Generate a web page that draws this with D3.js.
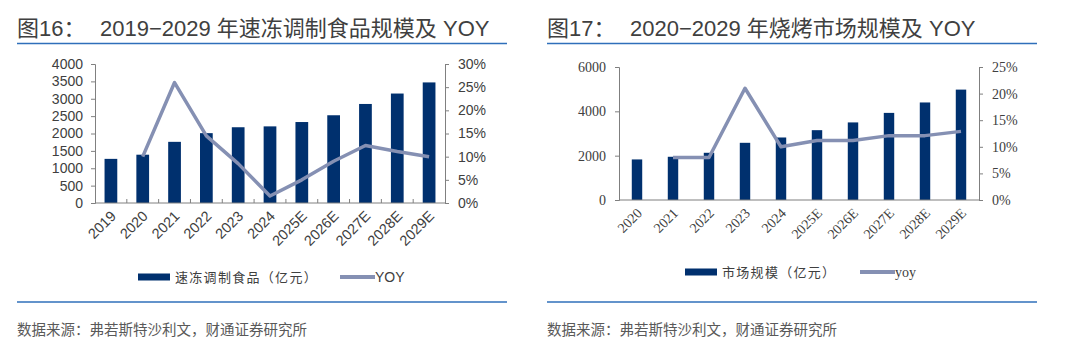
<!DOCTYPE html>
<html>
<head>
<meta charset="utf-8">
<script src="https://cdn.jsdelivr.net/npm/d3@7"></script>
<style>
  body { margin: 0; background: #fff; }
  svg { display: block; }
</style>
</head>
<body>
<svg id="chart" width="1080" height="351"></svg>
<script>
// 图16 速冻调制食品
let frozenYears = ['2019', '2020', '2021', '2022', '2023', '2024', '2025E', '2026E', '2027E', '2028E', '2029E'];
let frozenSize = [1270, 1390, 1760, 2010, 2180, 2205, 2330, 2525, 2850, 3150, 3470];
let frozenYoy = [null, 10, 26, 14.5, 8.5, 1.5, 5.0, 9.0, 12.4, 11.1, 10.0];
let frozenLeftTicks = [0, 500, 1000, 1500, 2000, 2500, 3000, 3500, 4000];
let frozenRightTicks = [0, 5, 10, 15, 20, 25, 30];

// 图17 烧烤
let bbqYears = ['2020', '2021', '2022', '2023', '2024', '2025E', '2026E', '2027E', '2028E', '2029E'];
let bbqSize = [1830, 1950, 2130, 2580, 2820, 3150, 3500, 3930, 4400, 4980];
let bbqYoy = [null, 8, 8, 21, 10, 11.2, 11.2, 12.1, 12.1, 12.9];
let bbqLeftTicks = [0, 2000, 4000, 6000];
let bbqRightTicks = [0, 5, 10, 15, 20, 25];

let barColor = '#00306e',
    lineColor = '#8590b3',
    ruleColor = '#2f6fba',
    textColor = '#404040';

let svg = d3.select('#chart');

let drawPanel = function (p) {
  let g = svg.append('g');

  // title + rules
  let titleFont = 'Liberation Sans, Noto Sans CJK SC, sans-serif';
  g.append('text')
    .attr('x', p.x0)
    .attr('y', 36)
    .attr('fill', textColor)
    .style('font-family', titleFont)
    .style('font-size', '22px')
    .text(p.titleNo);

  g.append('text')
    .attr('x', p.x0 + 83)
    .attr('y', 36)
    .attr('fill', textColor)
    .style('font-family', titleFont)
    .style('font-size', '22px')
    .text(p.title);

  g.append('line')
    .attr('x1', p.x0).attr('x2', p.x1)
    .attr('y1', 43.5).attr('y2', 43.5)
    .attr('stroke', ruleColor).attr('stroke-width', 1.5);

  g.append('line')
    .attr('x1', p.x0).attr('x2', p.x1)
    .attr('y1', 302).attr('y2', 302)
    .attr('stroke', ruleColor).attr('stroke-width', 1.5);

  g.append('text')
    .attr('x', p.x0)
    .attr('y', 335)
    .attr('fill', '#595959')
    .style('font-family', 'Noto Sans CJK SC, sans-serif')
    .style('font-size', '14.5px')
    .text('数据来源：弗若斯特沙利文，财通证券研究所');

  // scales
  let x = d3.scaleBand()
    .domain(p.cats)
    .range([p.left, p.right]);

  let yL = d3.scaleLinear()
    .domain([0, d3.max(p.leftTicks)])
    .range([p.bottom, p.top]);

  let yR = d3.scaleLinear()
    .domain([0, d3.max(p.rightTicks)])
    .range([p.bottom, p.top]);

  // bars
  let bw = x.bandwidth() * p.barRatio;
  g.selectAll('.bar')
    .data(p.cats)
    .enter()
    .append('rect')
    .attr('x', function (d) { return x(d) + (x.bandwidth() - bw) / 2; })
    .attr('y', function (d, i) { return yL(p.size[i]); })
    .attr('width', bw)
    .attr('height', function (d, i) { return yL(0) - yL(p.size[i]); })
    .attr('fill', barColor);

  // axes
  let axisFont = p.serif ? 'Liberation Serif, serif' : 'Liberation Sans, Arial, sans-serif';

  let leftAxis = d3.axisLeft(yL)
    .tickValues(p.leftTicks)
    .tickSize(4)
    .tickPadding(p.serif ? 9 : 8)
    .tickFormat(d3.format('d'));

  let rightAxis = d3.axisRight(yR)
    .tickValues(p.rightTicks)
    .tickSize(4)
    .tickPadding(9)
    .tickFormat(function (d) { return d + '%'; });

  let la = g.append('g')
    .attr('transform', 'translate(' + p.left + ',0)')
    .call(leftAxis);

  let ra = g.append('g')
    .attr('transform', 'translate(' + p.right + ',0)')
    .call(rightAxis);

  [la, ra].forEach(function (a) {
    a.select('.domain').attr('stroke', p.axisColor);
    a.selectAll('.tick line').attr('stroke', p.axisColor);
    a.selectAll('.tick text')
      .attr('fill', textColor)
      .style('font-family', axisFont)
      .style('font-size', p.tickFont);
  });

  // x axis
  g.append('line')
    .attr('x1', p.left).attr('x2', p.right)
    .attr('y1', p.bottom).attr('y2', p.bottom)
    .attr('stroke', p.axisColor);

  if (p.boundaryTicks) {
    g.selectAll('.xtick')
      .data(p.cats.slice(1))
      .enter()
      .append('line')
      .attr('x1', function (d) { return x(d); })
      .attr('x2', function (d) { return x(d); })
      .attr('y1', p.bottom)
      .attr('y2', p.bottom - 4)
      .attr('stroke', p.axisColor);
  }

  g.selectAll('.xlabel')
    .data(p.cats)
    .enter()
    .append('text')
    .attr('transform', function (d) {
      let cx = x(d) + x.bandwidth() / 2 + p.labelDx;
      return 'translate(' + cx + ',' + (p.bottom + p.labelDy) + ') rotate(-45)';
    })
    .attr('text-anchor', 'end')
    .attr('fill', textColor)
    .style('font-family', axisFont)
    .style('font-size', p.xFont)
    .text(function (d) { return d; });

  // yoy line
  let line = d3.line()
    .defined(function (d) { return d[1] !== null; })
    .x(function (d) { return x(d[0]) + x.bandwidth() / 2; })
    .y(function (d) { return yR(d[1]); });

  g.append('path')
    .datum(p.cats.map(function (c, i) { return [c, p.yoy[i]]; }))
    .attr('d', line)
    .attr('fill', 'none')
    .attr('stroke', lineColor)
    .attr('stroke-width', 3.5)
    .attr('stroke-linejoin', 'round');

  // legend
  let lg = g.append('g');
  lg.append('rect')
    .attr('x', p.legX).attr('y', p.legY - 3.5)
    .attr('width', 32).attr('height', 7)
    .attr('fill', barColor);
  lg.append('text')
    .attr('x', p.legX + 37).attr('y', p.legY + 5)
    .attr('fill', textColor)
    .style('font-family', 'Noto Sans CJK SC, sans-serif')
    .style('font-size', '13px')
    .style('letter-spacing', '1.3px')
    .text(p.legBar);
  lg.append('line')
    .attr('x1', p.legLineX).attr('x2', p.legLineX + 35)
    .attr('y1', p.legY).attr('y2', p.legY)
    .attr('stroke', lineColor).attr('stroke-width', 4);
  lg.append('text')
    .attr('x', p.legLineX + 35).attr('y', p.legY + 5)
    .attr('fill', textColor)
    .style('font-family', p.serif ? 'Liberation Serif, serif' : 'Liberation Sans, sans-serif')
    .style('font-size', '14px')
    .text(p.legLine);
};

drawPanel({
  x0: 17, x1: 507,
  titleNo: '图16：',
  title: '2019−2029 年速冻调制食品规模及 YOY',
  cats: frozenYears, size: frozenSize, yoy: frozenYoy,
  leftTicks: frozenLeftTicks, rightTicks: frozenRightTicks,
  left: 95, right: 445, top: 64, bottom: 203,
  barRatio: 0.4, serif: false, axisColor: '#808080',
  tickFont: '14px', xFont: '14.5px', boundaryTicks: true,
  labelDx: 6, labelDy: 14,
  legX: 138, legY: 277, legBar: '速冻调制食品（亿元）',
  legLineX: 340, legLine: 'YOY'
});

drawPanel({
  x0: 547, x1: 1037,
  titleNo: '图17：',
  title: '2020−2029 年烧烤市场规模及 YOY',
  cats: bbqYears, size: bbqSize, yoy: bbqYoy,
  leftTicks: bbqLeftTicks, rightTicks: bbqRightTicks,
  left: 619, right: 979, top: 67, bottom: 200,
  barRatio: 0.29, serif: true, axisColor: '#7f7f7f',
  tickFont: '14px', xFont: '14px', boundaryTicks: false,
  labelDx: 6, labelDy: 14,
  legX: 685, legY: 272, legBar: '市场规模（亿元）',
  legLineX: 860, legLine: 'yoy'
});
</script>
</body>
</html>
